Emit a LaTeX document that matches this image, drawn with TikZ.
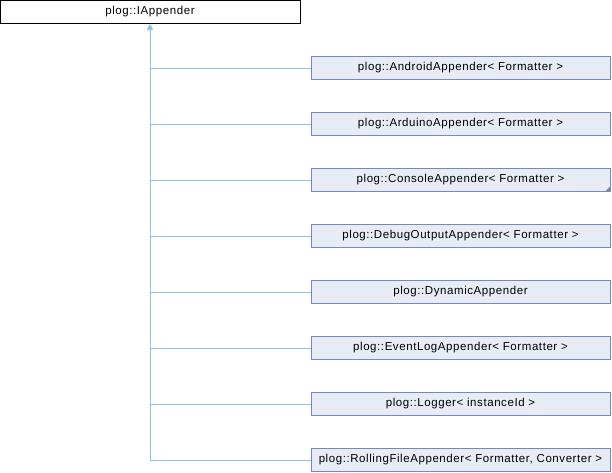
\documentclass[tikz,border=0pt]{standalone}
\usepackage{fontspec}
\setmainfont{Liberation Sans}[LetterSpace=5]
\usetikzlibrary{positioning,arrows.meta}

\definecolor{boxfill}{RGB}{232,236,245}
\definecolor{boxline}{RGB}{118,136,192}
\definecolor{inherit}{RGB}{140,196,230}

\begin{document}
\begin{tikzpicture}[
  x=1pt, y=-1pt,
  node distance=33pt,
  base/.style={rectangle, draw=black, fill=white, minimum width=300pt, minimum height=23pt, inner sep=0pt, outer sep=0pt, font=\fontsize{11.5}{13}\selectfont, line width=0.9pt},
  box/.style={rectangle, draw=boxline, fill=boxfill, minimum width=299pt, minimum height=23pt, inner sep=0pt, outer sep=0pt, font=\fontsize{11.5}{13}\selectfont, line width=0.9pt},
  derive/.style={{Triangle[width=5pt,length=5pt]}-, shorten <=1.5pt, draw=inherit, line width=1pt}
]
\useasboundingbox (0,0) rectangle (612,472);

% Base class
\node[base] (iappender) at (150,11.5) {plog::IAppender};

% Derived classes
\node[box] (android) at (460.5,68) {plog::AndroidAppender< Formatter >};
\node[box, below=of android] (arduino) {plog::ArduinoAppender< Formatter >};
\node[box, below=of arduino] (console) {plog::ConsoleAppender< Formatter >};
\node[box, below=of console] (debugout) {plog::DebugOutputAppender< Formatter >};
\node[box, below=of debugout] (dynamic) {plog::DynamicAppender};
\node[box, below=of dynamic] (eventlog) {plog::EventLogAppender< Formatter >};
\node[box, below=of eventlog] (logger) {plog::Logger< instanceId >};
\node[box, below=of logger] (rolling) {plog::RollingFileAppender< Formatter, Converter >};

% Marker for hidden subclasses
\fill[boxline] (console.south east) -- ++(0,-5) -- ++(-5,5) -- cycle;

% Inheritance lines
\draw[derive] (iappender) |- (android);
\draw[derive] (iappender) |- (arduino);
\draw[derive] (iappender) |- (console);
\draw[derive] (iappender) |- (debugout);
\draw[derive] (iappender) |- (dynamic);
\draw[derive] (iappender) |- (eventlog);
\draw[derive] (iappender) |- (logger);
\draw[derive] (iappender) |- (rolling);

\end{tikzpicture}
\end{document}
